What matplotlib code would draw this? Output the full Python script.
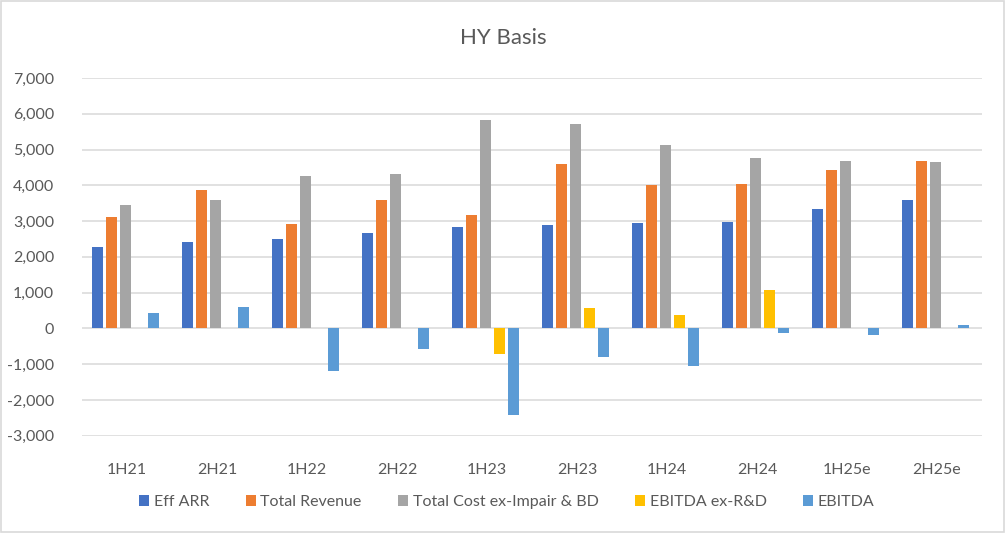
import matplotlib.pyplot as plt
import matplotlib.ticker as mticker
import numpy as np

plt.rcParams['font.family'] = ['Lato', 'DejaVu Sans']

# chart data
categories = ['1H21', '2H21', '1H22', '2H22', '1H23', '2H23', '1H24', '2H24', '1H25e', '2H25e']
eff_arr = [2270, 2410, 2490, 2660, 2820, 2880, 2935, 2960, 3350, 3600]
total_revenue = [3100, 3880, 2910, 3575, 3160, 4600, 4020, 4045, 4435, 4685]
total_cost = [3460, 3575, 4270, 4320, 5825, 5710, 5130, 4770, 4685, 4655]
ebitda_ex_rd = [0, 0, 0, 0, -720, 575, 380, 1075, 0, 0]
ebitda = [435, 600, -1200, -580, -2420, -805, -1055, -140, -195, 100]

series_names = ['Eff ARR', 'Total Revenue', 'Total Cost ex-Impair & BD', 'EBITDA ex-R&D', 'EBITDA']
series_vals = [eff_arr, total_revenue, total_cost, ebitda_ex_rd, ebitda]
colors = ['#4472C4', '#ED7D31', '#A5A5A5', '#FFC000', '#5B9BD5']

fig = plt.figure(figsize=(10.06, 5.33), dpi=100)
ax = fig.add_axes([0.0815, 0.1826, 0.8946, 0.6711])

# outer chart border
fig.patches.append(plt.Rectangle((0.001, 0.002), 0.997, 0.996, transform=fig.transFigure,
                                 fill=False, edgecolor='#D9D9D9', lw=1.2))

x = np.arange(len(categories))
pitch = 0.155
width = 0.122
for i, (name, vals, c) in enumerate(zip(series_names, series_vals, colors)):
    ax.bar(x + (i - 2) * pitch - 0.02, vals, width=width, color=c, label=name, zorder=3)

ax.set_xlim(-0.5, len(categories) - 0.5)
ax.set_ylim(-3000, 7000)
ax.yaxis.set_major_locator(mticker.MultipleLocator(1000))
ax.yaxis.set_major_formatter(mticker.FuncFormatter(lambda v, p: f'{int(v):,}'))
ax.grid(axis='y', color='#D9D9D9', lw=1.1, zorder=0)
for s in ax.spines.values():
    s.set_visible(False)
ax.tick_params(axis='both', length=0, labelsize=11.5, colors='#595959')
ax.tick_params(axis='y', pad=20)
ax.tick_params(axis='x', pad=20)
ax.set_xticks(x)
ax.set_xticklabels(categories)

fig.text(0.5, 0.928, 'HY Basis', ha='center', va='center', fontsize=16, color='#595959')

fig.legend(loc='center', bbox_to_anchor=(0.504, 0.058), ncol=5, frameon=False,
           fontsize=11.5, handlelength=0.6, handleheight=0.6, handletextpad=0.3,
           columnspacing=2.3, labelcolor='#595959')

fig.savefig('out.png', dpi=100)
